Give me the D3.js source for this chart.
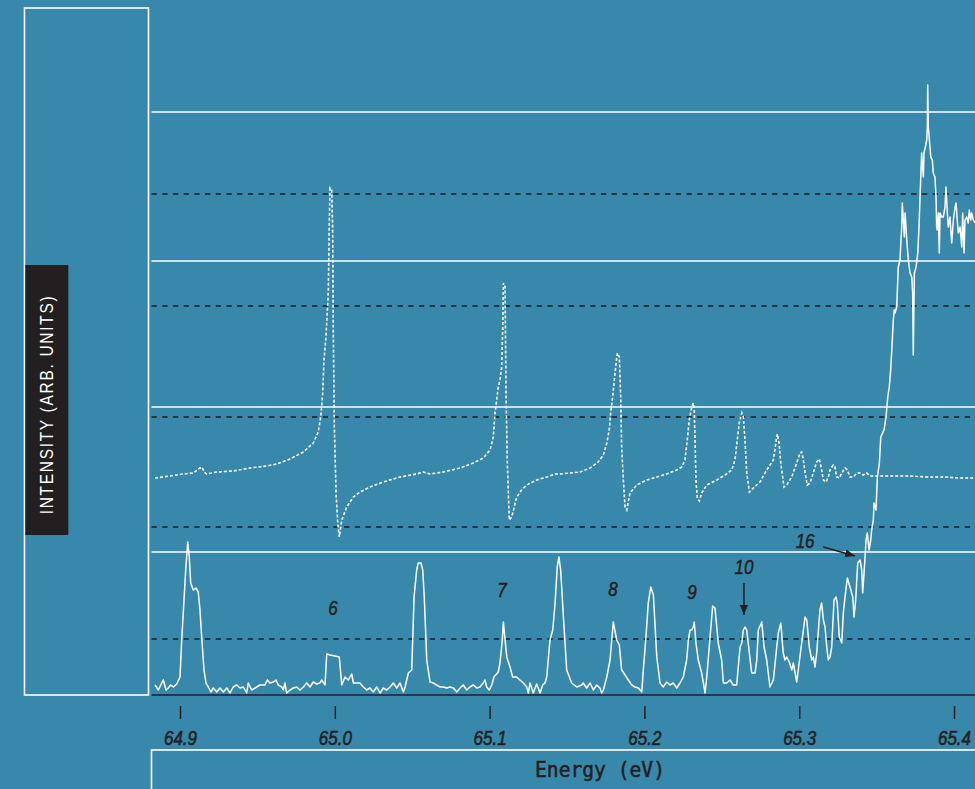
<!DOCTYPE html>
<html>
<head>
<meta charset="utf-8">
<script src="https://cdn.jsdelivr.net/npm/d3@7"></script>
<style>
  html, body { margin: 0; padding: 0; background: #3888ac; }
  svg { display: block; }
</style>
</head>
<body>
<svg id="chart" width="975" height="789"></svg>
<script>
// ---- data -------------------------------------------------------------
// Energy axis ticks (eV)
const xTicks = [64.9, 65.0, 65.1, 65.2, 65.3, 65.4];
const tickLabels = ["64.9", "65.0", "65.1", "65.2", "65.3", "65.4"];

// Reference levels (arbitrary intensity units)
const solidGrid = [583, 434, 288, 143];
const dashedGrid = [501, 389, 278, 168, 56];

// Measured yield: [energy eV, intensity]
const measured = [
  [64.8839,10],[64.8860,5],[64.8892,15],[64.8910,5],[64.8924,7],[64.8940,10],[64.8957,8],[64.8979,11],
  [64.9000,18],[64.9011,55],[64.9021,82],[64.9037,125],[64.9050,153],[64.9060,138],[64.9069,112],[64.9086,105],
  [64.9103,107],[64.9118,103],[64.9129,85],[64.9140,58],[64.9155,25],[64.9168,12],[64.9183,8],[64.9200,3],
  [64.9215,7],[64.9237,3],[64.9258,7],[64.9280,3],[64.9302,7],[64.9323,2],[64.9344,8],[64.9366,10],
  [64.9388,7],[64.9409,8],[64.9431,2],[64.9441,12],[64.9463,5],[64.9495,8],[64.9517,10],[64.9549,10],
  [64.9564,15],[64.9581,12],[64.9603,13],[64.9620,15],[64.9635,10],[64.9657,8],[64.9667,5],[64.9678,12],
  [64.9689,2],[64.9711,5],[64.9732,7],[64.9754,8],[64.9775,5],[64.9797,8],[64.9818,12],[64.9840,8],
  [64.9861,13],[64.9883,11],[64.9904,12],[64.9915,15],[64.9937,10],[64.9948,41],[64.9969,40],[65.0001,39],
  [65.0029,38],[65.0045,10],[65.0066,18],[65.0087,15],[65.0109,21],[65.0120,12],[65.0141,12],[65.0163,12],
  [65.0184,8],[65.0206,5],[65.0227,7],[65.0249,3],[65.0271,8],[65.0292,2],[65.0313,7],[65.0335,5],
  [65.0357,8],[65.0378,12],[65.0400,7],[65.0421,12],[65.0443,3],[65.0454,8],[65.0475,22],[65.0497,25],
  [65.0512,98],[65.0529,125],[65.0539,132],[65.0557,132],[65.0568,125],[65.0578,98],[65.0594,35],[65.0615,13],
  [65.0636,12],[65.0658,10],[65.0680,8],[65.0701,8],[65.0723,7],[65.0744,8],[65.0766,7],[65.0788,3],
  [65.0809,7],[65.0830,10],[65.0852,5],[65.0873,8],[65.0895,10],[65.0917,7],[65.0938,8],[65.0959,12],
  [65.0970,15],[65.0981,8],[65.0998,5],[65.1014,10],[65.1028,18],[65.1056,23],[65.1067,32],[65.1082,55],
  [65.1089,73],[65.1100,55],[65.1111,38],[65.1132,28],[65.1149,18],[65.1175,18],[65.1196,15],[65.1218,12],
  [65.1240,8],[65.1250,2],[65.1261,12],[65.1282,2],[65.1304,11],[65.1326,2],[65.1343,10],[65.1358,12],
  [65.1369,18],[65.1390,55],[65.1408,65],[65.1423,92],[65.1437,128],[65.1448,138],[65.1459,125],[65.1476,80],
  [65.1498,25],[65.1530,12],[65.1563,8],[65.1595,10],[65.1605,12],[65.1627,7],[65.1649,12],[65.1670,5],
  [65.1692,10],[65.1713,7],[65.1724,2],[65.1735,5],[65.1757,18],[65.1778,35],[65.1799,73],[65.1821,55],
  [65.1838,50],[65.1853,25],[65.1875,20],[65.1896,15],[65.1918,10],[65.1939,8],[65.1961,7],[65.1983,3],
  [65.1993,25],[65.2010,58],[65.2025,92],[65.2041,108],[65.2058,100],[65.2080,38],[65.2101,12],[65.2122,8],
  [65.2144,13],[65.2165,10],[65.2187,12],[65.2209,7],[65.2230,12],[65.2251,18],[65.2273,35],[65.2284,55],
  [65.2295,65],[65.2306,65],[65.2316,68],[65.2322,73],[65.2333,52],[65.2348,35],[65.2370,22],[65.2392,2],
  [65.2403,18],[65.2424,58],[65.2441,89],[65.2456,87],[65.2477,52],[65.2499,35],[65.2510,12],[65.2532,12],
  [65.2553,15],[65.2574,10],[65.2596,10],[65.2618,48],[65.2629,52],[65.2639,65],[65.2650,68],[65.2661,65],
  [65.2678,42],[65.2693,22],[65.2715,22],[65.2726,35],[65.2736,65],[65.2758,73],[65.2773,48],[65.2790,35],
  [65.2811,8],[65.2833,15],[65.2855,48],[65.2865,62],[65.2881,72],[65.2897,42],[65.2908,35],[65.2919,38],
  [65.2936,33],[65.2952,25],[65.2962,32],[65.2984,13],[65.2994,25],[65.3016,52],[65.3038,78],[65.3049,75],
  [65.3065,48],[65.3081,35],[65.3091,38],[65.3102,28],[65.3113,42],[65.3134,85],[65.3145,92],[65.3156,75],
  [65.3167,68],[65.3178,48],[65.3188,35],[65.3199,38],[65.3210,48],[65.3225,95],[65.3238,98],[65.3246,92],
  [65.3259,58],[65.3275,52],[65.3285,82],[65.3296,98],[65.3311,117],[65.3328,108],[65.3346,98],[65.3354,78],
  [65.3365,95],[65.3378,132],[65.3393,135],[65.3404,125],[65.3410,102],[65.3419,122],[65.3432,155],[65.3440,162],
  [65.3451,145],[65.3462,155],[65.3468,165],[65.3479,175],[65.3483,192],[65.3496,185],[65.3505,218],[65.3518,232],
  [65.3527,258],[65.3539,262],[65.3548,265],[65.3561,278],[65.3572,298],[65.3582,308],[65.3591,325],[65.3598,345],
  [65.3608,375],[65.3614,385],[65.3619,382],[65.3630,388],[65.3640,428],[65.3651,435],[65.3662,468],[65.3666,492],
  [65.3673,475],[65.3679,458],[65.3684,482],[65.3690,468],[65.3695,455],[65.3705,435],[65.3716,422],[65.3727,418],
  [65.3733,402],[65.3737,340],[65.3744,422],[65.3755,428],[65.3766,442],[65.3774,468],[65.3780,495],[65.3787,525],
  [65.3791,542],[65.3795,532],[65.3802,518],[65.3806,542],[65.3815,548],[65.3824,555],[65.3828,568],[65.3830,610],
  [65.3834,568],[65.3841,555],[65.3850,538],[65.3860,535],[65.3866,522],[65.3877,518],[65.3884,498],[65.3888,468],
  [65.3892,465],[65.3899,482],[65.3905,442],[65.3910,482],[65.3921,478],[65.3931,478],[65.3942,488],[65.3948,508],
  [65.3957,482],[65.3963,468],[65.3974,478],[65.3985,452],[65.3996,475],[65.4007,488],[65.4013,492],[65.4021,475],
  [65.4028,462],[65.4039,468],[65.4050,448],[65.4056,482],[65.4065,442],[65.4071,475],[65.4082,478],[65.4092,472],
  [65.4099,485],[65.4108,475],[65.4114,482],[65.4125,475],[65.4136,472]
];

// Calculated profile: [energy eV, intensity]
const calculated = [
  [64.8839,217],[64.8935,219],[64.9021,221],[64.9086,222],[64.9129,227],[64.9140,228],[64.9162,222],[64.9172,221],
  [64.9237,223],[64.9344,224],[64.9452,227],[64.9560,229],[64.9625,231],[64.9711,236],[64.9797,243],[64.9861,252],
  [64.9893,263],[64.9909,278],[64.9922,302],[64.9930,335],[64.9943,358],[64.9958,402],[64.9964,468],[64.9969,507],
  [64.9980,505],[64.9986,468],[64.9990,368],[64.9997,268],[65.0008,202],[65.0019,172],[65.0029,158],[65.0045,175],
  [65.0077,188],[65.0120,198],[65.0163,203],[65.0227,208],[65.0313,213],[65.0421,218],[65.0529,221],[65.0572,223],
  [65.0594,222],[65.0615,221],[65.0701,223],[65.0809,227],[65.0895,232],[65.0959,237],[65.1003,245],[65.1024,258],
  [65.1035,282],[65.1046,295],[65.1056,308],[65.1067,315],[65.1078,328],[65.1085,368],[65.1089,412],[65.1100,408],
  [65.1106,302],[65.1114,235],[65.1127,175],[65.1143,178],[65.1175,198],[65.1207,205],[65.1240,210],[65.1304,215],
  [65.1369,218],[65.1423,221],[65.1455,221],[65.1519,222],[65.1584,223],[65.1649,227],[65.1702,233],[65.1735,240],
  [65.1757,252],[65.1773,265],[65.1782,282],[65.1795,298],[65.1810,322],[65.1825,342],[65.1838,338],[65.1847,298],
  [65.1853,248],[65.1864,215],[65.1875,188],[65.1886,185],[65.1907,202],[65.1950,210],[65.2015,215],[65.2080,218],
  [65.2144,221],[65.2209,225],[65.2241,228],[65.2262,235],[65.2277,255],[65.2290,275],[65.2306,288],[65.2316,292],
  [65.2322,285],[65.2327,255],[65.2333,215],[65.2342,197],[65.2355,194],[65.2370,202],[65.2403,210],[65.2467,215],
  [65.2521,220],[65.2564,225],[65.2585,235],[65.2600,255],[65.2613,272],[65.2629,282],[65.2639,278],[65.2650,255],
  [65.2661,222],[65.2678,203],[65.2704,207],[65.2747,213],[65.2790,225],[65.2833,235],[65.2855,258],[65.2859,261],
  [65.2870,252],[65.2881,232],[65.2893,218],[65.2902,208],[65.2919,210],[65.2952,218],[65.2984,232],[65.3005,242],
  [65.3016,243],[65.3027,235],[65.3038,222],[65.3052,210],[65.3070,212],[65.3091,222],[65.3113,233],[65.3130,236],
  [65.3145,225],[65.3156,215],[65.3173,213],[65.3188,218],[65.3199,225],[65.3220,230],[65.3231,228],[65.3242,218],
  [65.3259,217],[65.3275,222],[65.3296,227],[65.3311,225],[65.3328,218],[65.3350,218],[65.3372,222],[65.3393,222],
  [65.3414,220],[65.3436,222],[65.3457,219],[65.3522,219],[65.3608,219],[65.3716,219],[65.3824,218],[65.3931,218],
  [65.4039,217],[65.4136,217]
];

// Resonance labels: text, energy, text baseline level
const peakLabels = ["6", "7", "8", "9", "10", "16"];
const peakLabelEnergy = [64.9988, 65.1080, 65.1797, 65.2307, 65.2643, 65.3038];
const peakLabelLevel = [80, 98, 99, 96, 121, 147];

// Pointer arrows: [from energy, from level, to energy, to level]
const pointers = [
  [65.2643, 112, 65.2643, 80],
  [65.3156, 148, 65.3361, 139]
];

// ---- drawing ----------------------------------------------------------
const W = 975, H = 789;
const ink = "#231f20";
const svg = d3.select("#chart");

const x = d3.scaleLinear().domain([64.9, 65.4]).range([180, 954]);
const y = d3.scaleLinear().domain([0, 600]).range([695, 95]);
const plotLeft = 151.5, plotRight = W;

svg.append("rect").attr("width", W).attr("height", H).attr("fill", "#3888ac");

svg.append("defs").append("marker")
  .attr("id", "arrowHead")
  .attr("viewBox", "0 0 10 8")
  .attr("refX", 10).attr("refY", 4)
  .attr("markerWidth", 10).attr("markerHeight", 8)
  .attr("markerUnits", "userSpaceOnUse")
  .attr("orient", "auto")
  .append("path").attr("d", "M0,0L10,4L0,8Z").attr("fill", ink);

// Left frame holding the intensity caption
svg.append("rect")
  .attr("x", 24.5).attr("y", 8).attr("width", 124).attr("height", 687)
  .attr("fill", "none").attr("stroke", "#fff").attr("stroke-width", 1.6);
svg.append("rect")
  .attr("x", 25.3).attr("y", 265).attr("width", 43).attr("height", 270)
  .attr("fill", ink);
svg.append("text")
  .attr("transform", "translate(52.7,404.5) rotate(-90) scale(0.86,1)")
  .attr("text-anchor", "middle")
  .attr("font-family", "'Liberation Sans', Arial, sans-serif")
  .attr("font-size", 18)
  .attr("letter-spacing", 2)
  .attr("fill", "#fff")
  .text("INTENSITY (ARB. UNITS)");

// Bottom frame with the energy caption
svg.append("rect")
  .attr("x", plotLeft).attr("y", 750).attr("width", 900).attr("height", 100)
  .attr("fill", "none").attr("stroke", "#fff").attr("stroke-width", 1.6);
svg.append("text")
  .attr("x", 600).attr("y", 777)
  .attr("text-anchor", "middle")
  .attr("font-family", "'DejaVu Sans Mono', monospace")
  .attr("font-size", 21)
  .attr("textLength", 130).attr("lengthAdjust", "spacingAndGlyphs")
  .attr("fill", ink)
  .attr("stroke", ink).attr("stroke-width", 0.5)
  .text("Energy (eV)");

// Reference levels
svg.append("g").selectAll("line").data(solidGrid).join("line")
  .attr("x1", plotLeft).attr("x2", plotRight)
  .attr("y1", d => y(d)).attr("y2", d => y(d))
  .attr("stroke", "#fff").attr("stroke-width", 1.6);
svg.append("g").selectAll("line").data(dashedGrid).join("line")
  .attr("x1", plotLeft).attr("x2", plotRight)
  .attr("y1", d => y(d)).attr("y2", d => y(d))
  .attr("stroke", "#1c1c1c").attr("stroke-width", 1.6)
  .attr("stroke-dasharray", "5.3,5.4");

// Zero line
svg.append("line")
  .attr("x1", plotLeft).attr("x2", plotRight)
  .attr("y1", y(0)).attr("y2", y(0))
  .attr("stroke", ink).attr("stroke-width", 1.6);

// Energy axis
const axis = d3.axisBottom(x)
  .tickValues(xTicks)
  .tickFormat((d, i) => tickLabels[i])
  .tickSize(13);
const gAxis = svg.append("g").attr("transform", "translate(0,706)").call(axis);
gAxis.select(".domain").remove();
gAxis.selectAll(".tick line").attr("stroke", ink).attr("stroke-width", 1.5);
gAxis.selectAll(".tick text")
  .attr("y", 39).attr("dy", null)
  .attr("transform", "scale(0.85,1)")
  .attr("fill", ink)
  .attr("stroke", ink).attr("stroke-width", 0.6)
  .attr("font-family", "'Liberation Sans', Arial, sans-serif")
  .attr("font-style", "italic")
  .attr("font-size", 20);

// Spectra
const line = d3.line().x(d => x(d[0])).y(d => y(d[1]));

svg.append("path").datum(calculated)
  .attr("d", line)
  .attr("fill", "none").attr("stroke", "#fff").attr("stroke-width", 1.6)
  .attr("stroke-dasharray", "3,2");

svg.append("path").datum(measured)
  .attr("d", line)
  .attr("fill", "none").attr("stroke", "#fff").attr("stroke-width", 1.5)
  .attr("stroke-linejoin", "round");

// Resonance labels and pointers
svg.append("g").selectAll("text").data(peakLabels).join("text")
  .attr("transform", (d, i) => `translate(${x(peakLabelEnergy[i])},${y(peakLabelLevel[i])}) scale(0.85,1)`)
  .attr("text-anchor", "middle")
  .attr("font-family", "'Liberation Sans', Arial, sans-serif")
  .attr("font-style", "italic")
  .attr("font-size", 20)
  .attr("fill", ink)
  .attr("stroke", ink).attr("stroke-width", 0.5)
  .text(d => d);

svg.append("g").selectAll("line").data(pointers).join("line")
  .attr("x1", d => x(d[0])).attr("y1", d => y(d[1]))
  .attr("x2", d => x(d[2])).attr("y2", d => y(d[3]))
  .attr("stroke", ink).attr("stroke-width", 1.5)
  .attr("marker-end", "url(#arrowHead)");
</script>
</body>
</html>
